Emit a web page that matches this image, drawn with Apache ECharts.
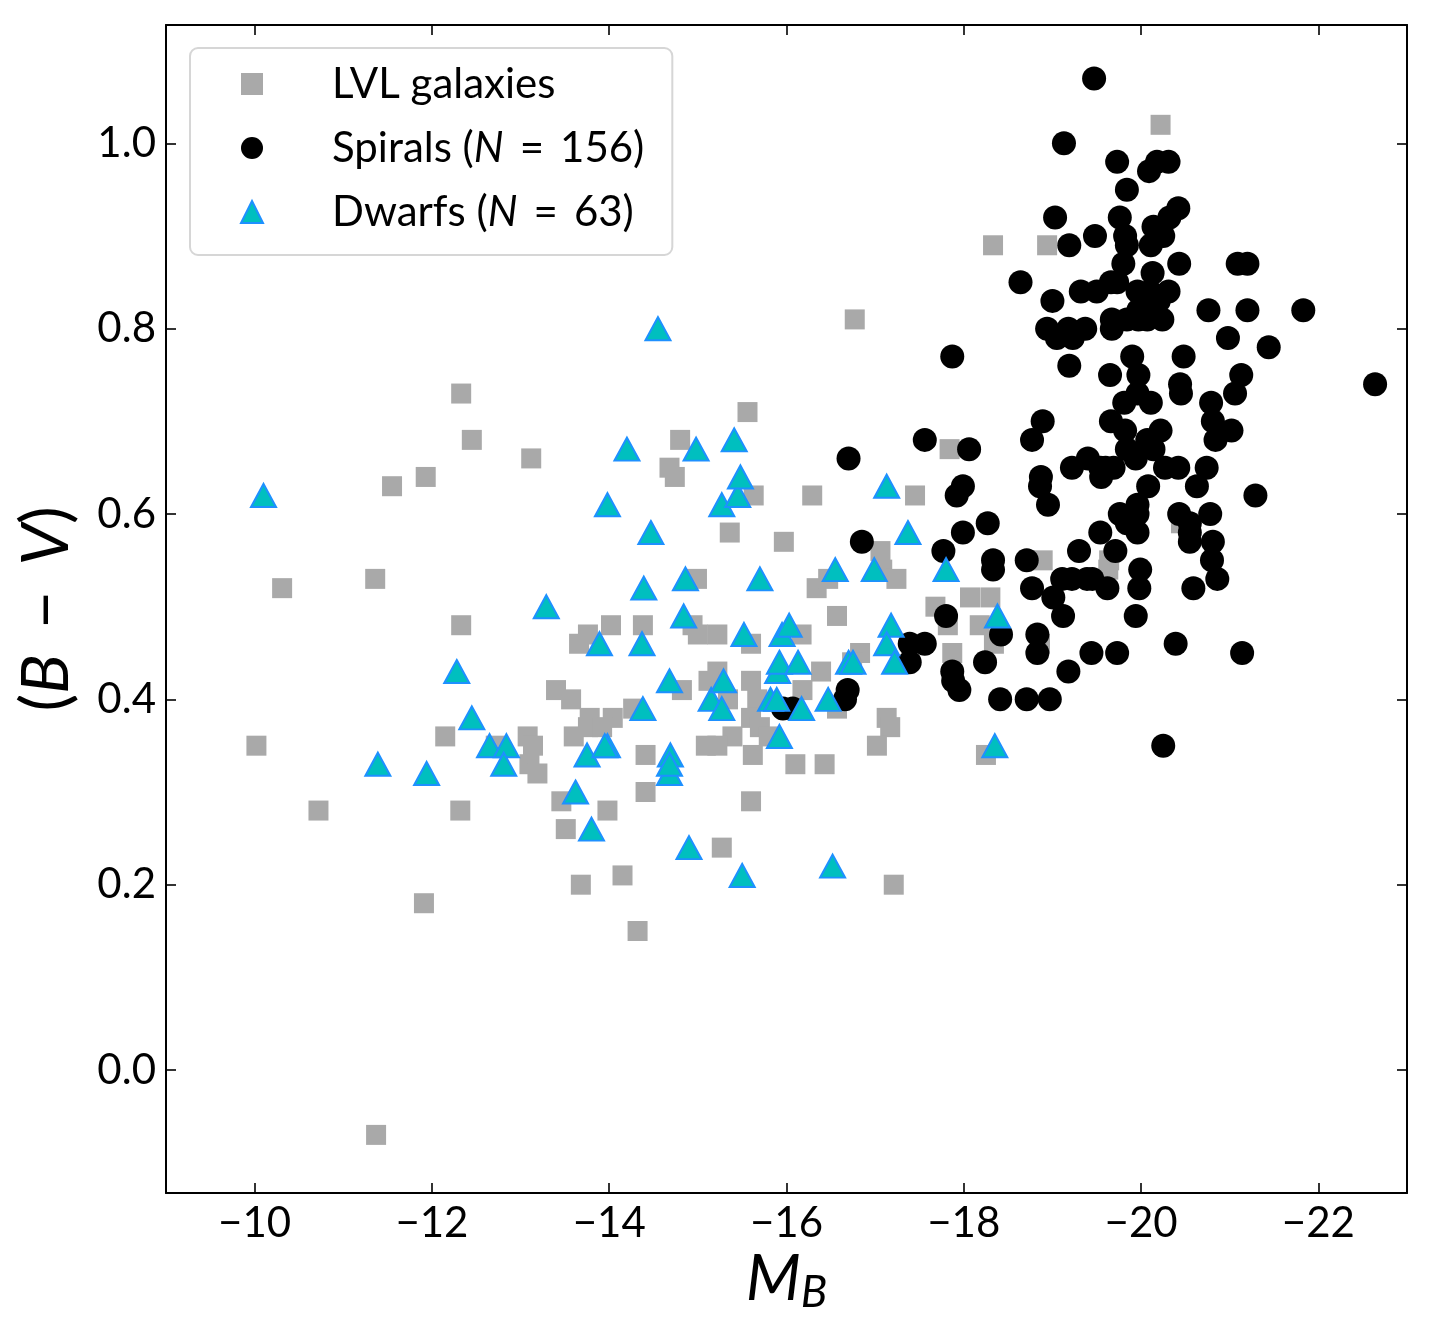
<!DOCTYPE html>
<html>
<head>
<meta charset="utf-8">
<script src="https://cdn.jsdelivr.net/npm/echarts/dist/echarts.min.js"></script>
<style>
html,body{margin:0;padding:0;background:#fff;}
#chart{width:1433px;height:1338px;}
</style>
</head>
<body>
<div id="chart"></div>
<script>
// ---- Data ----
const xTicks = [-10, -12, -14, -16, -18, -20, -22];
const yTicks = [0.0, 0.2, 0.4, 0.6, 0.8, 1.0];

const lvlMB = [-10.02,-10.31,-10.72,-11.36,-11.37,-11.55,-11.93,-11.91,-12.15,-12.33,
  -12.33,-12.32,-12.45,-12.72,-13.12,-14.32,-14.68,-14.74,-14.80,-15.36,
  -15.56,-15.63,-16.29,-16.77,-15.97,-17.45,-17.68,-17.84,-17.82,-17.87,
  -18.07,-18.18,-18.30,-18.33,-18.25,-18.34,-18.94,-18.89,-18.86,-19.64,
  -20.22,-20.45,-17.06,-19.63,
  -14.99,-16.34,-16.47,-17.08,-17.24,-16.57,-14.02,-14.38,-13.76,-13.66,
  -14.94,-15.00,-15.22,-15.60,-16.17,-16.83,-16.74,-16.39,-15.22,-15.12,
  -15.60,-16.18,-14.82,-13.40,-13.57,-14.27,-13.78,-14.04,-15.34,-15.67,
  -15.60,-15.70,-15.39,-15.09,-15.22,-15.62,-15.80,-13.60,-13.08,-13.14,
  -13.10,-13.19,-13.76,-13.92,-14.41,-17.13,-17.17,-17.02,-16.57,-16.10,
  -16.43,-14.41,-13.46,-13.98,-13.51,-15.60,-15.27,-14.15,-13.68,-17.21];
const lvlBV = [0.35,0.52,0.28,0.53,-0.07,0.63,0.64,0.18,0.36,0.73,
  0.48,0.28,0.68,0.35,0.66,0.15,0.65,0.64,0.68,0.58,
  0.71,0.62,0.62,0.81,0.57,0.62,0.50,0.67,0.48,0.45,
  0.51,0.48,0.51,0.89,0.34,0.46,0.89,0.55,0.46,0.55,
  1.02,0.59,0.56,0.54,
  0.53,0.52,0.53,0.54,0.53,0.49,0.48,0.48,0.47,0.46,
  0.48,0.47,0.47,0.46,0.47,0.45,0.44,0.43,0.43,0.42,
  0.42,0.41,0.41,0.41,0.40,0.39,0.38,0.38,0.40,0.40,
  0.38,0.37,0.36,0.35,0.35,0.34,0.36,0.36,0.36,0.35,
  0.33,0.32,0.37,0.37,0.34,0.38,0.37,0.35,0.39,0.33,
  0.33,0.30,0.29,0.28,0.26,0.29,0.24,0.21,0.20,0.20];

const spiralMB = [-19.47,-19.13,-19.73,-20.18,-20.31,-20.09,-19.84,-19.03,-19.76,-20.42,
  -20.32,-20.14,-19.48,-19.82,-20.25,-20.11,-19.19,-19.80,-20.43,-21.09,
  -21.20,-18.64,-20.13,-19.66,-19.73,-19.32,-19.00,-19.96,-20.10,-20.31,
  -20.76,-21.20,-21.83,-19.97,-18.94,-19.18,-19.37,-19.23,-19.67,-19.67,
  -19.84,-20.07,-20.24,-20.98,-21.44,-17.87,-19.90,-20.48,-19.19,-19.65,
  -19.97,-21.13,-20.44,-20.45,-21.06,-22.64,-19.96,-19.81,-20.11,-20.79,
  -18.89,-18.77,-17.56,-18.06,-19.66,-19.82,-20.22,-20.07,-20.81,-21.02,
  -20.84,-19.84,-20.14,-19.94,-19.22,-19.40,-19.54,-19.69,-19.55,-20.27,
  -20.42,-20.74,-20.63,-18.87,-18.86,-18.95,-17.99,-17.92,-21.29,-20.08,
  -19.96,-19.76,-19.84,-19.96,-19.54,-19.71,-20.43,-20.78,-20.55,-20.55,
  -20.81,-20.80,-20.86,-20.59,-18.27,-17.99,-17.77,-18.33,-18.33,-18.71,
  -19.30,-19.99,-19.98,-19.11,-19.22,-19.39,-19.62,-18.77,-19.01,-19.12,
  -19.94,-17.80,-18.83,-18.83,-18.42,-17.56,-17.39,-17.39,-18.24,-19.44,
  -19.73,-20.39,-21.14,-19.18,-17.87,-17.88,-17.95,-18.41,-18.71,-18.97,
  -20.25,-16.70,-16.85,-16.69,-16.66,-15.96,-16.07,
  -19.84,-19.50,-19.97,-20.20,-19.60,-19.45,-19.96,-20.55,-19.05];
const spiralBV = [1.07,1.00,0.98,0.98,0.98,0.97,0.95,0.92,0.92,0.93,
  0.92,0.91,0.90,0.90,0.90,0.89,0.89,0.87,0.87,0.87,
  0.87,0.85,0.86,0.85,0.85,0.84,0.83,0.84,0.84,0.84,
  0.82,0.82,0.82,0.82,0.80,0.80,0.80,0.79,0.81,0.80,
  0.81,0.81,0.81,0.79,0.78,0.77,0.77,0.77,0.76,0.75,
  0.75,0.75,0.74,0.73,0.73,0.74,0.73,0.72,0.72,0.72,
  0.70,0.68,0.68,0.67,0.70,0.69,0.69,0.68,0.70,0.69,
  0.68,0.67,0.67,0.66,0.65,0.66,0.65,0.65,0.64,0.65,
  0.65,0.65,0.63,0.64,0.63,0.61,0.63,0.62,0.62,0.63,
  0.61,0.60,0.59,0.58,0.58,0.56,0.60,0.60,0.59,0.57,
  0.57,0.55,0.53,0.52,0.59,0.58,0.56,0.55,0.54,0.55,
  0.56,0.54,0.52,0.53,0.53,0.53,0.52,0.52,0.51,0.49,
  0.49,0.49,0.47,0.45,0.47,0.46,0.46,0.44,0.44,0.45,
  0.45,0.46,0.45,0.43,0.43,0.42,0.41,0.40,0.40,0.40,
  0.35,0.66,0.57,0.41,0.40,0.39,0.39,
  0.89,0.84,0.81,0.83,0.65,0.53,0.60,0.58,0.79];

const dwarfMB = [-10.10,-11.39,-11.94,-12.28,-12.45,-12.65,-12.84,-12.81,-13.29,-13.62,
  -13.75,-13.80,-13.89,-13.98,-13.98,-14.20,-14.38,-14.37,-14.39,-14.47,
  -14.55,-14.68,-14.69,-14.68,-14.84,-14.86,-14.90,-14.98,-15.15,-15.27,
  -15.27,-15.29,-15.41,-15.45,-15.48,-15.50,-15.52,-15.70,-15.82,-15.89,
  -15.90,-15.92,-15.92,-15.95,-16.03,-16.13,-16.17,-16.47,-16.52,-16.55,
  -16.70,-16.75,-16.99,-17.13,-17.18,-17.13,-17.22,-17.37,-17.80,-18.38,
  -18.35,-14.68,-13.95];
const dwarfBV = [0.62,0.33,0.32,0.43,0.38,0.35,0.35,0.33,0.50,0.30,
  0.34,0.26,0.46,0.35,0.61,0.67,0.39,0.46,0.52,0.58,
  0.80,0.42,0.34,0.32,0.49,0.53,0.24,0.67,0.40,0.39,
  0.61,0.42,0.68,0.62,0.64,0.21,0.47,0.53,0.40,0.40,
  0.43,0.44,0.36,0.47,0.48,0.44,0.39,0.40,0.22,0.54,
  0.44,0.44,0.54,0.63,0.48,0.46,0.44,0.58,0.54,0.49,
  0.35,0.33,0.35];

// ---- Chart ----
const FONT = 'Lato';
const zip = (a, b) => a.map((v, i) => [v, b[i]]);
const minus = s => String(s).replace('-', '\u2212');

const tickCommon = {show: true, inside: true, length: 10, lineStyle: {color: '#000', width: 1.6}};
const lineCommon = {show: true, onZero: false, lineStyle: {color: '#000', width: 2}};
const labelFont = {fontFamily: FONT, fontSize: 42, color: '#000'};

const xBase = {type: 'value', min: -23, max: -9, inverse: true, splitLine: {show: false}, axisLine: lineCommon};
const yBase = {type: 'value', min: -0.1327, max: 1.1277, splitLine: {show: false}, axisLine: lineCommon};

const chart = echarts.init(document.getElementById('chart'), null, {renderer: 'canvas'});
chart.setOption({
  animation: false,
  backgroundColor: '#fff',
  grid: {left: 166, right: 26, top: 25, bottom: 145, containLabel: false},
  xAxis: [
    Object.assign({}, xBase, {
      position: 'bottom',
      axisTick: Object.assign({}, tickCommon, {customValues: xTicks}),
      axisLabel: Object.assign({}, labelFont, {customValues: xTicks, margin: 9, formatter: v => minus(v)}),
      name: '{m|M}{b|B}',
      nameLocation: 'middle',
      nameMoveOverlap: false,
      nameGap: 50,
      nameTextStyle: {
        rich: {
          m: {fontFamily: FONT, fontStyle: 'italic', fontSize: 64, color: '#000'},
          b: {fontFamily: FONT, fontStyle: 'italic', fontSize: 44, color: '#000', padding: [28, 0, 0, 0]}
        }
      }
    }),
    Object.assign({}, xBase, {
      position: 'top',
      axisTick: Object.assign({}, tickCommon, {customValues: xTicks}),
      axisLabel: {show: false}
    })
  ],
  yAxis: [
    Object.assign({}, yBase, {
      position: 'left',
      axisTick: Object.assign({}, tickCommon, {customValues: yTicks}),
      axisLabel: Object.assign({}, labelFont, {customValues: yTicks, margin: 10, formatter: v => v.toFixed(1)}),
      name: '({i|B} \u2009\u2212\u2009 {i|V})',
      nameLocation: 'middle',
      nameGap: 86,
      nameTextStyle: {
        fontFamily: FONT, fontSize: 66, color: '#000',
        rich: {i: {fontFamily: FONT, fontStyle: 'italic', fontSize: 66, color: '#000'}}
      }
    }),
    Object.assign({}, yBase, {
      position: 'right',
      axisTick: Object.assign({}, tickCommon, {customValues: yTicks}),
      axisLabel: {show: false}
    })
  ],
  legend: {
    orient: 'vertical',
    left: 190,
    top: 48,
    padding: [15, 28, 22, 50],
    itemWidth: 22,
    itemHeight: 22,
    itemGap: 22,
    backgroundColor: '#fff',
    borderColor: '#d6d6d6',
    borderWidth: 2,
    borderRadius: 8,
    textStyle: {
      fontFamily: FONT, fontSize: 42, lineHeight: 42, color: '#000', padding: [0, 0, 0, 64],
      rich: {i: {fontFamily: FONT, fontStyle: 'italic', fontSize: 42, lineHeight: 42, color: '#000'}}
    },
    formatter: name => {
      if (name === 'Spirals') return 'Spirals ({i|N} \u2009=\u2009 156)';
      if (name === 'Dwarfs') return 'Dwarfs ({i|N} \u2009=\u2009 63)';
      return name;
    },
    data: [
      {name: 'LVL galaxies', icon: 'rect'},
      {name: 'Spirals', icon: 'circle'},
      {name: 'Dwarfs', icon: 'triangle'}
    ]
  },
  series: [
    {
      name: 'LVL galaxies', type: 'scatter', xAxisIndex: 0, yAxisIndex: 0,
      symbol: 'rect', symbolSize: 20,
      itemStyle: {color: '#a9a9a9', opacity: 1},
      data: zip(lvlMB, lvlBV), z: 2
    },
    {
      name: 'Spirals', type: 'scatter', xAxisIndex: 0, yAxisIndex: 0,
      symbol: 'circle', symbolSize: 24,
      itemStyle: {color: '#000', opacity: 1},
      data: zip(spiralMB, spiralBV), z: 3
    },
    {
      name: 'Dwarfs', type: 'scatter', xAxisIndex: 0, yAxisIndex: 0,
      symbol: 'triangle', symbolSize: [25, 23],
      itemStyle: {color: '#00bfbf', borderColor: '#1e90ff', borderWidth: 2, opacity: 1},
      data: zip(dwarfMB, dwarfBV), z: 4
    }
  ]
});
</script>
</body>
</html>
